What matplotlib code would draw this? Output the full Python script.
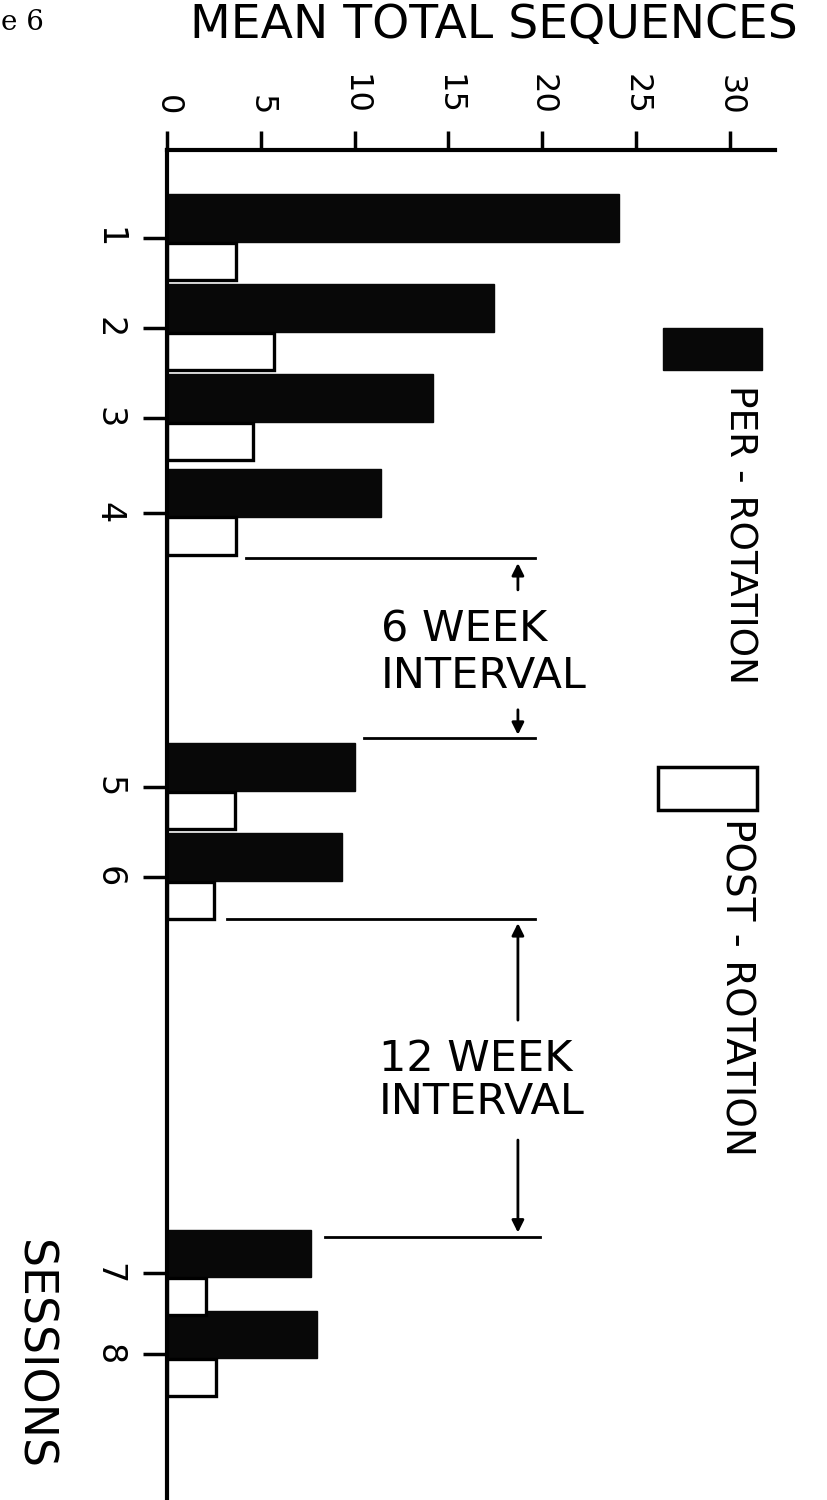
import matplotlib
matplotlib.use("Agg")
import matplotlib.pyplot as plt
from matplotlib.patches import Rectangle

# data
sessions = ["1", "2", "3", "4", "5", "6", "7", "8"]
session_pos = [1, 2, 3, 4.05, 7.1, 8.1, 12.5, 13.4]
per_rotation = [24.1, 17.4, 14.2, 11.4, 10.0, 9.3, 7.7, 8.0]
post_rotation = [3.7, 5.7, 4.6, 3.7, 3.6, 2.5, 2.1, 2.6]
x_ticks = [0, 5, 10, 15, 20, 25, 30]

plt.rcParams["font.family"] = ["DejaVu Sans"]

fig = plt.figure(figsize=(8.28, 15), dpi=100)
ax = fig.add_axes([167 / 828, 0, 608 / 828, 0.9])

per_y = [p - 0.22 for p in session_pos]
post_y = [p + 0.26 for p in session_pos]
ax.barh(per_y, per_rotation, height=0.53, color="#080808", edgecolor="#080808", linewidth=1)
ax.barh(post_y, post_rotation, height=0.42, color="white", edgecolor="black", linewidth=2.4)

ax.set_xlim(0, 32.4)
ax.set_ylim(15.02, 0.022)

# axes styling: value axis on top, sessions on the left
ax.xaxis.tick_top()
ax.set_xticks(x_ticks)
ax.set_xticklabels([str(t) for t in x_ticks], rotation=-90, fontsize=23)
ax.tick_params(axis="x", direction="out", length=14, width=2.5, pad=11)
ax.set_yticks(session_pos)
ax.set_yticklabels(sessions, rotation=-90, fontsize=24, va="center")
ax.tick_params(axis="y", direction="out", length=17, width=2.5, pad=13)
for side in ["right", "bottom"]:
    ax.spines[side].set_visible(False)
for side in ["top", "left"]:
    ax.spines[side].set_linewidth(3)

# interval markers
line_kw = dict(color="black", linewidth=2)
arrow_kw = dict(arrowstyle="-|>", color="black", lw=2, mutation_scale=18)
ax.plot([4.2, 19.6], [4.56, 4.56], **line_kw)
ax.plot([10.5, 19.6], [6.56, 6.56], **line_kw)
ax.annotate("", xy=(18.7, 4.58), xytext=(18.7, 4.94), arrowprops=arrow_kw)
ax.annotate("", xy=(18.7, 6.55), xytext=(18.7, 6.21), arrowprops=arrow_kw)
ax.text(11.4, 5.61, "6 WEEK\nINTERVAL", fontsize=31, ha="left", va="center", linespacing=1.15)

ax.plot([3.2, 19.6], [8.56, 8.56], **line_kw)
ax.plot([8.4, 19.9], [12.1, 12.1], **line_kw)
ax.annotate("", xy=(18.7, 8.58), xytext=(18.7, 9.72), arrowprops=arrow_kw)
ax.annotate("", xy=(18.7, 12.08), xytext=(18.7, 10.99), arrowprops=arrow_kw)
ax.text(11.3, 10.36, "12 WEEK\nINTERVAL", fontsize=31, ha="left", va="center", linespacing=1.05)

# legend drawn by hand, rotated like the original page
fig.add_artist(Rectangle((663 / 828, 1 - 370 / 1500), 99 / 828, 42 / 1500,
                         transform=fig.transFigure, facecolor="#080808", edgecolor="#080808"))
fig.add_artist(Rectangle((658 / 828, 1 - 810 / 1500), 99 / 828, 43 / 1500,
                         transform=fig.transFigure, facecolor="white", edgecolor="black", linewidth=2.5))
fig.text(740 / 828, 1 - 385 / 1500, "PER - ROTATION", rotation=-90, fontsize=27, ha="center", va="top")
fig.text(737 / 828, 1 - 818 / 1500, "POST - ROTATION", rotation=-90, fontsize=28, ha="center", va="top")

fig.text(494 / 828, 1 - 25 / 1500, "MEAN TOTAL SEQUENCES", fontsize=34, ha="center", va="center")
fig.text(33 / 828, 1 - 1240 / 1500, "SESSIONS", rotation=-90, fontsize=33, ha="center", va="top")
fig.text(1 / 828, 1 - 22 / 1500, "e 6", fontsize=20, family=["DejaVu Serif"], ha="left", va="center")

fig.savefig("out.png", dpi=100)
